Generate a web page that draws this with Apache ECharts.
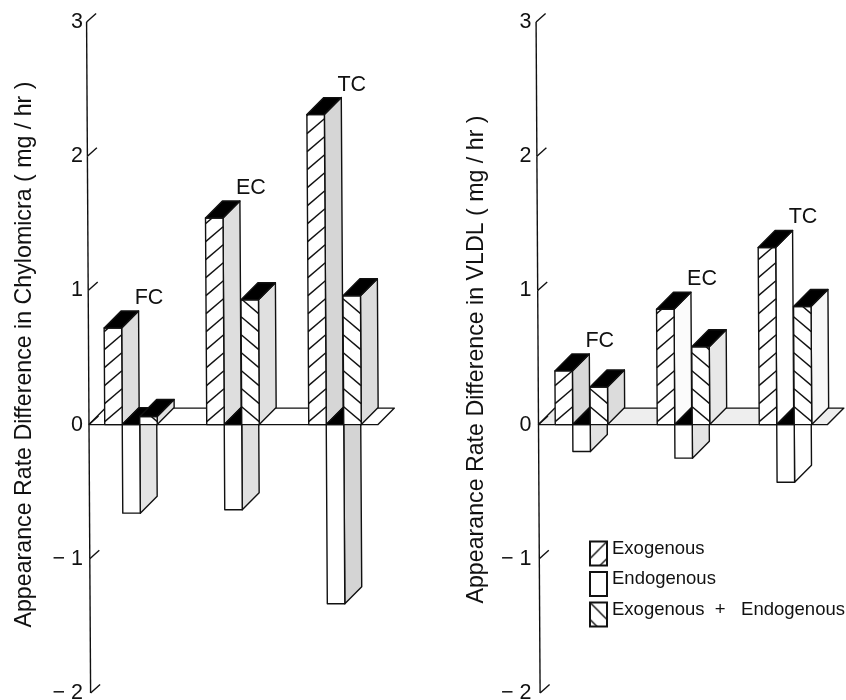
<!DOCTYPE html>
<html><head><meta charset="utf-8">
<style>html,body{margin:0;padding:0;background:#fff}#c{width:846px;height:700px}</style>
<script src="https://cdn.jsdelivr.net/npm/echarts@6/dist/echarts.min.js"></script>
</head><body><div id="c"></div>
<script>
const categories = ['FC', 'EC', 'TC'];
const seriesNames = ['Exogenous', 'Endogenous', 'Exogenous  +   Endogenous'];
const yTicks = [3, 2, 1, 0, -1, -2];

const chyloExogenous = [0.72, 1.54, 2.31];
const chyloEndogenous = [-0.66, -0.635, -1.335];
const chyloCombined = [0.06, 0.93, 0.96];

const vldlExogenous = [0.40, 0.86, 1.32];
const vldlEndogenous = [-0.20, -0.25, -0.43];
const vldlCombined = [0.28, 0.58, 0.88];

const chyloTitle = 'Appearance Rate Difference in Chylomicra ( mg / hr )';
const vldlTitle = 'Appearance Rate Difference in VLDL ( mg / hr )';

// styling only
const INK = '#111';
const LW = 1.4;
const FONT = '"Liberation Sans", Arial, sans-serif';
const chyloSides = [['#dedede','#e4e4e4','#e2e2e2'],['#dedede','#e0e0e0','#e0e0e0'],['#d6d6d6','#d4d4d4','#dcdcdc']];
const vldlSides = [['#d8d8d8','#e2e2e2','#dcdcdc'],['#fbfbfb','#e4e4e4','#e8e8e8'],['#ffffff','#ffffff','#f8f8f8']];
const floorFills = ['#ffffff', '#eeeeee'];
const SHEAR = 0.006, ZERO_Y = 425;
const sx = (x, y) => x + (y - ZERO_Y) * SHEAR;
const pts = a => a.map(p => [sx(p[0], p[1]), p[1]]);

function tile(dir) {
  const c = document.createElement('canvas'); c.width = 17; c.height = 17;
  const g = c.getContext('2d'); g.fillStyle = '#fff'; g.fillRect(0, 0, 17, 17);
  g.strokeStyle = INK; g.lineWidth = 1.4; g.beginPath();
  for (let k = -1; k <= 1; k++) {
    if (dir > 0) { g.moveTo(k * 17, 17); g.lineTo(k * 17 + 17, 0); }
    else { g.moveTo(k * 17, 0); g.lineTo(k * 17 + 17, 17); }
  }
  g.stroke(); return c;
}
const legendFills = [
  { image: tile(1), repeat: 'repeat' }, '#ffffff', { image: tile(-1), repeat: 'repeat' }
];

function poly(points, fill) {
  return { type: 'polygon', shape: { points: pts(points) }, style: { fill: fill, stroke: INK, lineWidth: LW, lineJoin: 'round' } };
}
function hatch(xl, xr, top, bot, dir) {
  const out = [], slope = 0.85, sp = 18, w = xr - xl, rise = slope * w;
  for (let k = 0; k < 40; k++) {
    const yLow = bot - 3 - k * sp;     // low end of the stroke
    const yHigh = yLow - rise;
    if (yLow <= top + 1) break;
    let lowX = dir > 0 ? xl : xr, highX = dir > 0 ? xr : xl, hy = yHigh;
    if (yHigh < top) {
      const t = (yLow - top) / rise;
      highX = dir > 0 ? xl + t * w : xr - t * w; hy = top;
    }
    out.push({ type: 'line', shape: { x1: sx(lowX, yLow), y1: yLow, x2: sx(highX, hy), y2: hy },
      style: { stroke: INK, lineWidth: LW, fill: null } });
  }
  return out;
}
function barRender(slot, sides, showLabel) {
  return function (params, api) {
    const i = api.value(0), v = api.value(1);
    const band = api.size([1, 0])[0], W = band * 0.1716, d = band / 6;
    const cx = api.coord([i, 0])[0], y0 = api.coord([i, 0])[1], yv = api.coord([i, v])[1];
    const xl = cx - 1.5 * W + slot * W, xr = xl + W;
    const top = Math.min(y0, yv), bot = Math.max(y0, yv);
    const kids = [
      poly([[xr, top], [xr + d, top - d], [xr + d, bot - d], [xr, bot]], sides[i][slot]),
      poly([[xl, top], [xr, top], [xr, bot], [xl, bot]], '#fff')
    ];
    if (slot !== 1) hatch(xl, xr, top, bot, slot === 0 ? 1 : -1).forEach(e => kids.push(e));
    kids.push(poly([[xl, top], [xl + d, top - d], [xr + d, top - d], [xr, top]], '#000'));
    if (showLabel) kids.push({ type: 'text', style: { text: categories[i], x: sx(xl + 30.5, top), y: top - 30,
      font: '21.5px ' + FONT, fill: INK, textAlign: 'left', textVerticalAlign: 'middle' } });
    return { type: 'group', children: kids };
  };
}
function floorRender(fill, startOff, endOff) {
  return function (params, api) {
    const y0 = api.coord([0, 0])[1], gx = params.coordSys.x, d = 16.5;
    const a = gx + startOff, b = gx + endOff;
    return poly([[a, y0], [a + d, y0 - d], [b + d, y0 - d], [b, y0]], fill);
  };
}
function axisRender(lineX) {
  return function (params, api) {
    const v = api.value(0), y = api.coord([0, v])[1], x = params.coordSys.x + lineX;
    const kids = [{ type: 'line', shape: { x1: sx(x, y), y1: y, x2: sx(x, y) + 9.5, y2: y - 8.5 },
      style: { stroke: INK, lineWidth: LW, fill: null } }];
    if (v > yTicks[yTicks.length - 1]) {
      const y2 = api.coord([0, v - 1])[1];
      kids.push({ type: 'line', shape: { x1: sx(x, y), y1: y, x2: sx(x, y2), y2: y2 },
        style: { stroke: INK, lineWidth: LW, fill: null } });
    }
    return { type: 'group', children: kids };
  };
}
const fmtTick = v => v < 0 ? '\u2212 ' + Math.abs(v) : String(v);

function panel(idx, vals, sides, floorFill, start, end, lineX) {
  const common = { type: 'custom', xAxisIndex: idx, yAxisIndex: idx, silent: true, animation: false };
  const list = [
    Object.assign({}, common, { renderItem: floorRender(floorFill, start, end), data: [[0, 0]], encode: { x: 0, y: 1 }, z: 1 }),
    Object.assign({}, common, { renderItem: axisRender(lineX), data: yTicks.map(t => [t]), encode: { y: 0 }, z: 5 })
  ];
  vals.forEach((arr, s) => list.push(Object.assign({}, common, {
    name: seriesNames[s], z: 2 + s,
    itemStyle: { color: legendFills[s], borderColor: INK, borderWidth: LW },
    renderItem: barRender(s, sides, s === 0),
    data: categories.map((c, i) => [i, arr[i]]), encode: { x: 0, y: 1 }
  })));
  return list;
}

const chart = echarts.init(document.getElementById('c'), null, { renderer: 'canvas' });
const yAx = (gi, title, gap, margin, namePad) => ({
  type: 'value', gridIndex: gi, min: -2, max: 3, interval: 1,
  axisLine: { show: false }, axisTick: { show: false }, splitLine: { show: false },
  axisLabel: { color: INK, fontSize: 21.5, fontFamily: FONT, margin: margin, formatter: fmtTick, showMinLabel: true, showMaxLabel: true, hideOverlap: false },
  name: title, nameLocation: 'middle', nameGap: gap, nameRotate: 90, nameMoveOverlap: false,
  nameTextStyle: { color: INK, fontSize: 23.2, fontFamily: FONT, padding: namePad }
});
const xAx = gi => ({ type: 'category', gridIndex: gi, data: categories, show: false });
chart.setOption({
  animation: false, backgroundColor: '#fff',
  grid: [
    { left: 80, top: 22, width: 306, height: 671, outerBoundsMode: 'none', containLabel: false },
    { left: 530.5, top: 22, width: 306, height: 671, outerBoundsMode: 'none', containLabel: false }
  ],
  xAxis: [xAx(0), xAx(1)],
  yAxis: [yAx(0, chyloTitle, 44, -3, [0, 0, 0, 6]), yAx(1, vldlTitle, 42, -1, [0, 4, 0, 0])],
  legend: {
    orient: 'vertical', left: 589, top: 539, itemWidth: 17, itemHeight: 24, itemGap: 1.5,
    padding: 0, selectedMode: false, icon: 'rect',
    data: seriesNames,
    formatter: n => '{t|' + n + '}',
    textStyle: { color: INK, fontSize: 18.5, fontFamily: FONT,
      rich: { t: { color: INK, fontSize: 18.5, fontFamily: FONT, lineHeight: 14, padding: [0, 0, 10, 0] } } }
  },
  series: [].concat(
    panel(0, [chyloExogenous, chyloEndogenous, chyloCombined], chyloSides, floorFills[0], 9, 298, 9),
    panel(1, [vldlExogenous, vldlEndogenous, vldlCombined], vldlSides, floorFills[1], 8, 297, 8)
  )
});
</script></body></html>
